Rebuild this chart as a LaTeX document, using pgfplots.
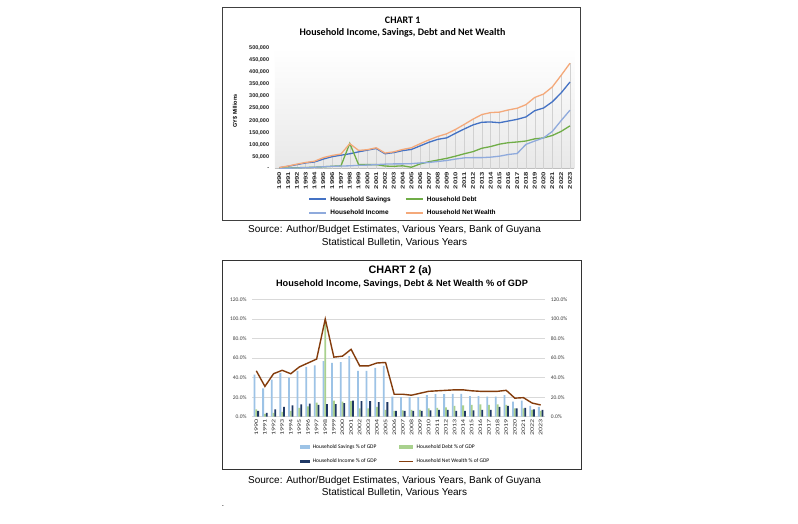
\documentclass[border=0pt]{standalone}
\usepackage{fontspec}
\setmainfont{Liberation Sans}
\newfontfamily\carlito{Carlito}
\usepackage{pgfplots}
\usepackage{pgfplotstable}
\pgfplotsset{compat=1.18}

\definecolor{savc}{HTML}{4472C4}
\definecolor{debtc}{HTML}{70AD47}
\definecolor{incc}{HTML}{8FAADC}
\definecolor{nwc}{HTML}{F4A97A}
\definecolor{bsav}{HTML}{9DC3E6}
\definecolor{bdebt}{HTML}{A9D18E}
\definecolor{binc}{HTML}{1F3864}
\definecolor{bnw}{HTML}{843C0C}

% GY$ millions
\pgfplotstableread{
year sav debt inc nw
1990 4000 2000 1000 5000
1991 10000 3000 2000 11000
1992 17000 4000 3000 19000
1993 24000 5000 4000 26000
1994 28000 6000 6000 31000
1995 40000 8000 8000 46000
1996 50000 10000 10000 55000
1997 56000 12000 11000 61000
1998 62000 105000 12000 104000
1999 70000 17000 14000 76000
2000 77000 17000 15000 79000
2001 84000 17000 17000 87000
2002 62000 11000 19000 65000
2003 67000 10000 20000 70000
2004 75000 12000 20000 80000
2005 80000 6000 21000 87000
2006 95000 20000 24000 104000
2007 110000 29000 26000 120000
2008 122000 36000 30000 134000
2009 128000 43000 34000 145000
2010 147000 52000 40000 163000
2011 165000 62000 45000 184000
2012 182000 71000 46000 206000
2013 193000 85000 46000 225000
2014 194000 92000 48000 233000
2015 191000 102000 52000 235000
2016 198000 108000 59000 244000
2017 205000 111000 63000 251000
2018 215000 115000 101000 266000
2019 241000 124000 115000 296000
2020 252000 128000 128000 310000
2021 278000 138000 155000 340000
2022 315000 155000 200000 388000
2023 360000 178000 243000 438000
}\levels

% % of GDP
\pgfplotstableread{
year sav debt inc nw
1990 43 7.5 6 47
1991 29 3 4 31
1992 38 4 7.5 44
1993 45 5 10 47.5
1994 40 6 11.5 44
1995 47 9 12.5 51
1996 51 10.5 13.5 55
1997 52.5 14.5 12 59
1998 57 98 13 100
1999 55 16.5 13 61
2000 56 15.5 14 62
2001 62 16 16.5 69
2002 47 8.5 16 52
2003 47 8.5 16 52
2004 50 10 15 55
2005 52 7 15 55.5
2006 20.5 6 6 23
2007 20 6.5 6 23
2008 20 7 6 22
2009 20 7 6 24
2010 22 8.5 6.5 26
2011 23 9 7 26.5
2012 23 9.5 7 27
2013 23.5 11 6 27.5
2014 23.5 11.5 6 27.5
2015 21 12 6.5 26.5
2016 21 12.5 7 26
2017 20.5 12 7 26
2018 20.5 12.5 10 26
2019 22 12 11 27
2020 15.5 8.5 8.5 19
2021 16.5 8.5 9 19.5
2022 11 7 7.5 14
2023 10 6 7 12
}\shares

\begin{document}
\begin{tikzpicture}[x=1pt,y=1pt]
\fill[white] (0,0) rectangle (798,523);
\useasboundingbox (0,0) rectangle (798,523);

% ---------- chart 1 ----------
\draw[black!75, line width=0.9pt] (222.7,515.3) rectangle (580,302.3);
\node[font=\carlito\bfseries\fontsize{10}{12}\selectfont] at (402.7,502.8) {CHART 1};
\node[font=\carlito\bfseries\fontsize{10}{12}\selectfont] at (402.5,490.3) {Household Income, Savings, Debt and Net Wealth};
\node[rotate=90, font=\bfseries\fontsize{5.5}{6}\selectfont] at (235,412) {GY\$ Millions};

\begin{axis}[
    at={(274.9pt,354.3pt)}, anchor=south west,
    scale only axis, width=299.5pt, height=120.4pt,
    xmin=1989.5, xmax=2023.5, ymin=0, ymax=500000,
    /pgf/number format/assume math mode=true,
    axis x line*=bottom, axis y line*=left,
    x axis line style={black!25},
    y axis line style={draw=none},
    major tick length=0pt,
    axis background/.style={top color=white, bottom color=black!9},
    scaled y ticks=false,
    ytick={0,50000,...,500000},
    yticklabels={-,{50,000},{100,000},{150,000},{200,000},{250,000},{300,000},{350,000},{400,000},{450,000},{500,000}},
    yticklabel style={font=\bfseries\fontsize{5.5}{6}\selectfont, inner sep=0pt, text=black!85},
    yticklabel shift=5.6pt,
    xtick={1990,...,2023},
    xticklabel={\pgfmathprintnumber[1000 sep={}]{\tick}},
    xticklabel style={rotate=90, xscale=1.4, anchor=east, inner sep=0pt,
        font=\bfseries\fontsize{5.5}{6}\selectfont, text=black!85},
    xticklabel shift=3pt,
    legend columns=2,
    legend cell align=left,
    legend style={at={(rel axis cs:0.428,-0.31)}, anchor=center, draw=none, fill=none,
        font=\bfseries\fontsize{6.5}{7}\selectfont, column sep=1pt, row sep=3pt, inner sep=0pt,
        /tikz/every even column/.append style={column sep=12pt}},
    every axis plot/.append style={mark=none, line width=1.3pt},
]
\addplot[ycomb, black!18, line width=0.5pt, forget plot] table[x=year, y=nw] {\levels};
\addplot[savc, legend image code/.code={\draw[savc, line width=2pt] (0pt,0pt) -- (17pt,0pt);}]
    table[x=year, y=sav] {\levels};
\addlegendentry{Household Savings}
\addplot[debtc, legend image code/.code={\draw[debtc, line width=2pt] (0pt,0pt) -- (17pt,0pt);}]
    table[x=year, y=debt] {\levels};
\addlegendentry{Household Debt}
\addplot[incc, legend image code/.code={\draw[incc, line width=2pt] (0pt,0pt) -- (17pt,0pt);}]
    table[x=year, y=inc] {\levels};
\addlegendentry{Household Income}
\addplot[nwc, legend image code/.code={\draw[nwc, line width=2pt] (0pt,0pt) -- (17pt,0pt);}]
    table[x=year, y=nw] {\levels};
\addlegendentry{Household Net Wealth}
\end{axis}

\node[font=\fontsize{10}{13.4}\selectfont, align=center] at (394.5,287) {Source: Author/Budget Estimates, Various Years, Bank of Guyana\\Statistical Bulletin, Various Years};

% ---------- chart 2 ----------
\draw[black!80, line width=0.9pt] (222.7,262.3) rectangle (581,54);
\node[font=\bfseries\fontsize{10.8}{13}\selectfont] at (400,252.3) {CHART 2 (a)};
\node[font=\bfseries\fontsize{9.2}{11}\selectfont] at (402,239) {Household Income, Savings, Debt \& Net Wealth \% of GDP};

\begin{axis}[
    at={(252pt,106.3pt)}, anchor=south west,
    scale only axis, width=293pt, height=117.2pt,
    xmin=1989.5, xmax=2023.5, ymin=0, ymax=120,
    /pgf/number format/assume math mode=true,
    axis line style={draw=none},
    major tick length=0pt,
    ymajorgrids, grid style={black!15, line width=0.6pt},
    ytick={0,20,...,120},
    yticklabel={\pgfmathprintnumber[fixed, fixed zerofill, precision=1]{\tick}\%},
    yticklabel style={font=\carlito\fontsize{5.5}{6}\selectfont, inner sep=0pt, text=black!75},
    yticklabel shift=5.3pt,
    xtick={1990,...,2023},
    xticklabel={\pgfmathprintnumber[1000 sep={}]{\tick}},
    xticklabel style={rotate=90, xscale=1.45, anchor=east, inner sep=0pt,
        font=\carlito\fontsize{5.5}{6}\selectfont, text=black!80},
    xticklabel shift=2.5pt,
    legend columns=2,
    legend cell align=left,
    legend style={at={(rel axis cs:0.49,-0.32)}, anchor=center, draw=none, fill=none,
        font=\carlito\fontsize{5.5}{6}\selectfont, column sep=1pt, row sep=5pt, inner sep=0pt,
        /tikz/every even column/.append style={column sep=20pt}},
]
\addplot[ybar, bar width=1.8pt, bar shift=-1.8pt, fill=bsav, draw=none,
    legend image code/.code={\fill[bsav] (0pt,-1.7pt) rectangle (10pt,1.7pt);}]
    table[x=year, y=sav] {\shares};
\addlegendentry{Household Savings \% of GDP}
\addplot[ybar, bar width=1.8pt, bar shift=0pt, fill=bdebt, draw=none,
    legend image code/.code={\fill[bdebt] (0pt,-1.7pt) rectangle (14pt,1.7pt);}]
    table[x=year, y=debt] {\shares};
\addlegendentry{Household Debt \% of GDP}
\addplot[ybar, bar width=1.8pt, bar shift=1.8pt, fill=binc, draw=none,
    legend image code/.code={\fill[binc] (0pt,-1.7pt) rectangle (10pt,1.7pt);}]
    table[x=year, y=inc] {\shares};
\addlegendentry{Household Income \% of GDP}
\addplot[bnw, line width=1.4pt, mark=none,
    legend image code/.code={\draw[bnw, line width=1.1pt] (0pt,0pt) -- (14pt,0pt);}]
    table[x=year, y=nw] {\shares};
\addlegendentry{Household Net Wealth \% of GDP}
\end{axis}

\begin{axis}[
    at={(252pt,106.3pt)}, anchor=south west,
    scale only axis, width=293pt, height=117.2pt,
    xmin=1989.5, xmax=2023.5, ymin=0, ymax=120,
    /pgf/number format/assume math mode=true,
    axis x line=none, axis y line*=right,
    axis line style={draw=none},
    major tick length=0pt,
    ytick={0,20,...,120},
    yticklabel={\pgfmathprintnumber[fixed, fixed zerofill, precision=1]{\tick}\%},
    yticklabel style={font=\carlito\fontsize{5.5}{6}\selectfont, inner sep=0pt, text=black!75},
    yticklabel shift=5.7pt,
]
\addplot[draw=none, forget plot] coordinates {(1990,0) (2023,0)};
\end{axis}

\node[font=\fontsize{10}{11.5}\selectfont, align=center] at (394.5,36.5) {Source: Author/Budget Estimates, Various Years, Bank of Guyana\\Statistical Bulletin, Various Years};
\node[font=\fontsize{8}{9}\selectfont, inner sep=0pt] at (223,17) {.};
\end{tikzpicture}
\end{document}
